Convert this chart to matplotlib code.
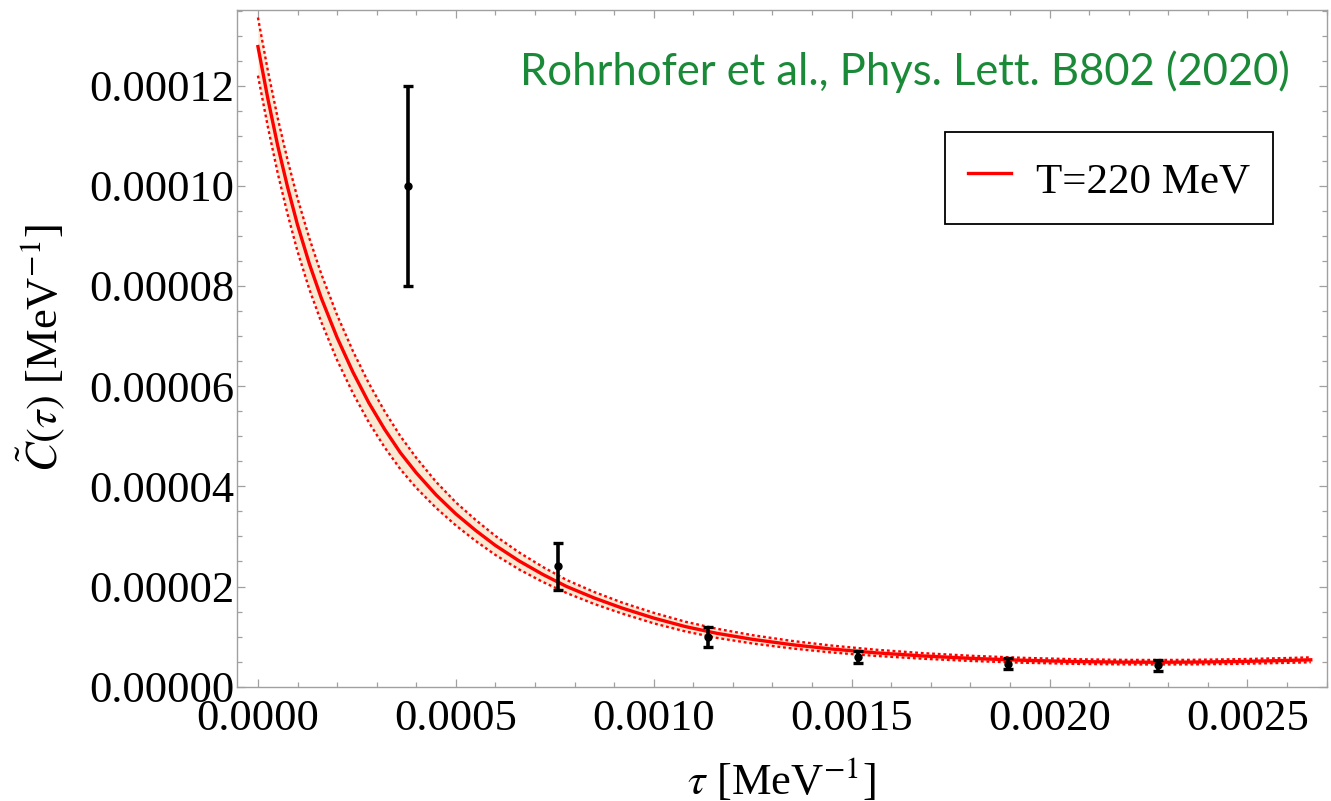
import numpy as np
import matplotlib.pyplot as plt
from matplotlib.ticker import MultipleLocator, FormatStrFormatter

plt.rcParams['font.family'] = ['Liberation Serif', 'DejaVu Serif']
plt.rcParams['mathtext.fontset'] = 'stix'

# lattice data points (tau in MeV^-1, C in MeV^-1)
tau_data = [0.000379, 0.000758, 0.001136, 0.001515, 0.001894, 0.002273]
corr_data = [100.0e-6, 24.0e-6, 9.9e-6, 6.0e-6, 4.6e-6, 4.25e-6]
corr_err = [20.0e-6, 4.7e-6, 2.0e-6, 1.2e-6, 1.1e-6, 1.05e-6]

# fit curve and its error band (units of 1e-6 MeV^-1)
tau_fit = [0.0, 0.000025, 0.00005, 0.000075, 0.0001, 0.00013, 0.00016,
           0.0002, 0.00024, 0.00028, 0.00032, 0.00036, 0.0004, 0.00045,
           0.0005, 0.00055, 0.0006, 0.00066, 0.00072, 0.00078, 0.00085,
           0.00092, 0.001, 0.00108, 0.00116, 0.00125, 0.00135, 0.00145,
           0.00156, 0.00168, 0.0018, 0.00193, 0.00206, 0.00218, 0.00227,
           0.00236, 0.00248, 0.0026, 0.00266]
corr_fit = [127.8, 117.4, 108.0, 99.7, 92.2, 84.4, 77.6, 69.7, 62.8, 56.7,
            51.4, 46.7, 42.7, 38.3, 34.5, 31.2, 28.2, 25.1, 22.4, 20.0,
            17.7, 15.7, 13.7, 12.0, 10.65, 9.45, 8.38, 7.52, 6.77, 6.14,
            5.66, 5.28, 5.03, 4.91, 4.88, 4.91, 5.03, 5.24, 5.37]
corr_hi = [133.6, 123.0, 113.5, 105.1, 97.5, 89.5, 82.4, 74.2, 67.0, 60.6,
           55.0, 50.0, 45.7, 40.9, 36.8, 33.3, 30.1, 26.8, 23.9, 21.3,
           18.9, 16.8, 14.75, 12.97, 11.56, 10.28, 9.13, 8.21, 7.39, 6.70,
           6.18, 5.77, 5.49, 5.36, 5.33, 5.36, 5.49, 5.72, 5.86]
corr_lo = [122.0, 111.8, 102.5, 94.3, 86.9, 79.3, 72.8, 65.2, 58.6, 52.8,
           47.8, 43.4, 39.7, 35.7, 32.2, 29.1, 26.3, 23.4, 20.9, 18.7,
           16.5, 14.6, 12.65, 11.03, 9.74, 8.62, 7.63, 6.83, 6.15, 5.58,
           5.14, 4.79, 4.57, 4.46, 4.43, 4.46, 4.57, 4.76, 4.88]

corr_fit = np.array(corr_fit) * 1e-6
corr_hi = np.array(corr_hi) * 1e-6
corr_lo = np.array(corr_lo) * 1e-6

fig = plt.figure(figsize=(13.31, 8.01), dpi=100)
ax = fig.add_axes([0.1778, 0.1427, 0.8189, 0.8448])

ax.fill_between(tau_fit, corr_lo, corr_hi, color='#f9e9d3', lw=0)
ax.plot(tau_fit, corr_hi, color='red', lw=1.7, dashes=(1.2, 1.2))
ax.plot(tau_fit, corr_lo, color='red', lw=1.7, dashes=(1.2, 1.2))
ax.plot(tau_fit, corr_fit, color='red', lw=2.4, label='T=220 MeV')
ax.errorbar(tau_data, corr_data, yerr=corr_err, fmt='o', color='black',
            ms=5, elinewidth=2.6, capsize=3.8, capthick=2.4)

ax.set_xlim(-0.0000538, 0.0027)
ax.set_ylim(0, 0.0001351)

ax.xaxis.set_major_locator(MultipleLocator(0.0005))
ax.xaxis.set_minor_locator(MultipleLocator(0.0001))
ax.yaxis.set_major_locator(MultipleLocator(0.00002))
ax.yaxis.set_minor_locator(MultipleLocator(0.000005))
ax.xaxis.set_major_formatter(FormatStrFormatter('%.4f'))
ax.yaxis.set_major_formatter(FormatStrFormatter('%.5f'))

for sp in ax.spines.values():
    sp.set_color('#a0a0a0')
    sp.set_linewidth(1.0)
ax.tick_params(which='both', direction='in', top=True, right=True,
               color='#a0a0a0', width=0.9, labelsize=32)
ax.tick_params(which='major', length=6)
ax.tick_params(which='minor', length=3.8)
ax.tick_params(axis='y', pad=1.5)
ax.tick_params(axis='x', pad=9)

ax.set_xlabel(r'$\tau$ [MeV$^{-1}$]', fontsize=32)
ax.set_ylabel(r'$\tilde{C}(\tau)$ [MeV$^{-1}$]', fontsize=32)
ax.xaxis.set_label_coords(0.5, -0.103)
ax.yaxis.set_label_coords(-0.1557, 0.5)

ax.text(0.9663, 0.909, 'Rohrhofer et al., Phys. Lett. B802 (2020)',
        transform=ax.transAxes, ha='right', va='center', color='#1a8a38',
        fontsize=31.4, family='Lato')

leg = ax.legend(loc='upper right', bbox_to_anchor=(0.951, 0.8202),
                borderaxespad=0, fancybox=False, edgecolor='black',
                framealpha=1, handlelength=1.0, handletextpad=0.58,
                handleheight=1.3, borderpad=0.53, fontsize=31)
leg.get_frame().set_linewidth(1.3)

fig.savefig('out.png', dpi=100)
